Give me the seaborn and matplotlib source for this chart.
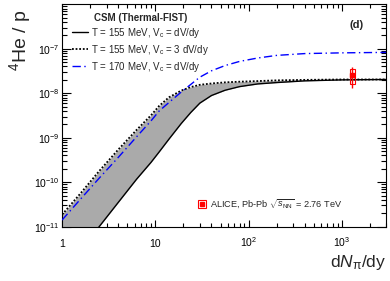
import matplotlib
matplotlib.use("Agg")
import matplotlib.pyplot as plt
from matplotlib.lines import Line2D
from matplotlib.patches import Rectangle
import seaborn as sns

# Curves (dN_pi/dy vs 4He/p)
dndy = [1, 1.6, 2.5, 4, 6.3, 9, 11, 14, 19, 24, 30, 40, 56, 80, 125, 200, 400, 1000, 3000]
ratio_t155_v3 = [1.86e-11, 5.8e-11, 1.78e-10, 5.4e-10, 1.5e-9, 3.2e-9, 5.2e-9, 8.1e-9,
                 1.15e-8, 1.38e-8, 1.55e-8, 1.66e-8, 1.76e-8, 1.82e-8, 1.88e-8, 1.95e-8,
                 2.0e-8, 2.04e-8, 2.04e-8]
ratio_t155_v1 = [8.9e-13, 3.0e-12, 1.0e-11, 3.5e-11, 1.17e-10, 2.8e-10, 4.8e-10, 9.3e-10,
                 2.1e-9, 3.7e-9, 6.0e-9, 8.9e-9, 1.17e-8, 1.41e-8, 1.62e-8, 1.74e-8,
                 1.9e-8, 2.0e-8, 2.04e-8]
ratio_t170_v1 = [1.41e-11, 4.3e-11, 1.23e-10, 3.6e-10, 1.05e-9, 2.4e-9, 4.0e-9, 6.2e-9,
                 1.07e-8, 1.58e-8, 2.3e-8, 3.2e-8, 4.2e-8, 5.2e-8, 6.2e-8, 7.1e-8,
                 7.8e-8, 8.1e-8, 8.3e-8]

# ALICE data point
alice_x = 1290
alice_y = 2.6e-8
alice_stat = 1.3e-8
alice_syst = 1.0e-8

labels = ["T = 155 MeV, V$_{c}$ = dV/dy",
          "T = 155 MeV, V$_{c}$ = 3 dV/dy",
          "T = 170 MeV, V$_{c}$ = dV/dy"]

sns.set_theme(style="ticks")
plt.rcParams["font.family"] = ["Liberation Sans", "DejaVu Sans"]
plt.rcParams["mathtext.fontset"] = "custom"
plt.rcParams["mathtext.rm"] = "Liberation Sans"
plt.rcParams["mathtext.it"] = "Liberation Sans:italic"
plt.rcParams["mathtext.bf"] = "Liberation Sans:bold"
plt.rcParams["mathtext.default"] = "regular"

fig = plt.figure(figsize=(3.9, 2.81), dpi=100)
ax = fig.add_axes([0.159, 0.1932, 0.8318, 0.7915])
ax.set_xscale("log")
ax.set_yscale("log")

# band between the two T=155 curves
ax.fill_between(dndy, ratio_t155_v1, ratio_t155_v3, color="#aaaaaa", lw=0, zorder=1)

sns.lineplot(x=dndy, y=ratio_t155_v1, ax=ax, color="black", lw=1.0, zorder=3)
sns.lineplot(x=dndy, y=ratio_t155_v3, ax=ax, color="black", lw=1.3,
             linestyle=(0, (1, 1)), zorder=3)
sns.lineplot(x=dndy, y=ratio_t170_v1, ax=ax, color="blue", lw=1.0,
             linestyle=(0, (6, 2.5, 1, 2.5)), zorder=4)

# ALICE point: stat bar + syst box
ax.errorbar([alice_x], [alice_y], yerr=[alice_stat], fmt="s", color="red",
            ms=2.8, lw=1.0, capsize=0, zorder=6)
box_w = 1.067
ax.add_patch(Rectangle((alice_x / box_w, alice_y - alice_syst),
                       alice_x * box_w - alice_x / box_w, 2 * alice_syst,
                       fill=False, ec="red", lw=0.8, zorder=5))

ax.set_xlim(1, 3000)
ax.set_ylim(1e-11, 1e-6)

ax.set_xticks([1, 10, 100, 1000], labels=["1", "10", "$10^{2}$", "$10^{3}$"])
ax.set_yticks([1e-11, 1e-10, 1e-9, 1e-8, 1e-7],
              labels=["$10^{-11}$", "$10^{-10}$", "$10^{-9}$", "$10^{-8}$", "$10^{-7}$"])
ax.xaxis.set_minor_locator(matplotlib.ticker.LogLocator(base=10, subs=range(2, 10), numticks=20))
ax.yaxis.set_minor_locator(matplotlib.ticker.LogLocator(base=10, subs=range(2, 10), numticks=20))
ax.xaxis.set_minor_formatter(matplotlib.ticker.NullFormatter())
ax.yaxis.set_minor_formatter(matplotlib.ticker.NullFormatter())
ax.set_ylim(1e-11, 1e-6)

ax.tick_params(which="both", direction="in", top=True, right=True, width=0.8,
               colors="black", labelsize=7.5)
ax.tick_params(axis="y", which="major", length=6.5, pad=1.5)
ax.tick_params(axis="y", which="minor", length=3.3)
ax.tick_params(axis="x", which="major", length=5, pad=14.5)
ax.tick_params(axis="x", which="minor", length=2.9)
for lbl in ax.get_xticklabels():
    lbl.set_verticalalignment("baseline")
for s in ax.spines.values():
    s.set_linewidth(0.8)
    s.set_color("black")

ax.set_xlabel("d$\\mathit{N}_{\\pi}$/dy", fontsize=12.5, loc="right")
ax.xaxis.set_label_coords(1.0, -0.12)
ax.set_ylabel("$^{4}$He / p", fontsize=14, loc="top")
ax.yaxis.set_label_coords(-0.09, 0.975)

# model legend
handles = [Line2D([], [], color="black", lw=1.0),
           Line2D([], [], color="black", lw=1.3, linestyle=(0, (1, 1))),
           Line2D([], [], color="blue", lw=1.0, linestyle=(0, (6, 2.5, 1, 2.5)))]
leg = ax.legend(handles, labels, title="CSM (Thermal-FIST)", loc="upper left",
                bbox_to_anchor=(0.031, 0.962), frameon=False, fontsize=7,
                title_fontproperties={"weight": "bold", "size": 7},
                handlelength=1.6, handletextpad=0.3, labelspacing=0.3,
                borderpad=0, borderaxespad=0)
ax.add_artist(leg)

# data legend
data_handle = (Line2D([], [], marker="s", ms=6, mfc="none", mec="red", mew=0.8, ls="none"),
               Line2D([], [], marker="s", ms=2.8, color="red", ls="none"))
ax.legend([data_handle], ["ALICE, Pb-Pb $\\sqrt{\\mathit{s}_{\\mathrm{NN}}}$ = 2.76 TeV"],
          loc="center left", bbox_to_anchor=(0.418, 0.102), frameon=False,
          fontsize=6.6, handlelength=1.0, handletextpad=0.3,
          borderpad=0, borderaxespad=0)

ax.text(0.909, 0.907, "(d)", transform=ax.transAxes, fontsize=8,
        fontweight="bold", ha="center", va="center")

fig.savefig("out.png", dpi=100)
